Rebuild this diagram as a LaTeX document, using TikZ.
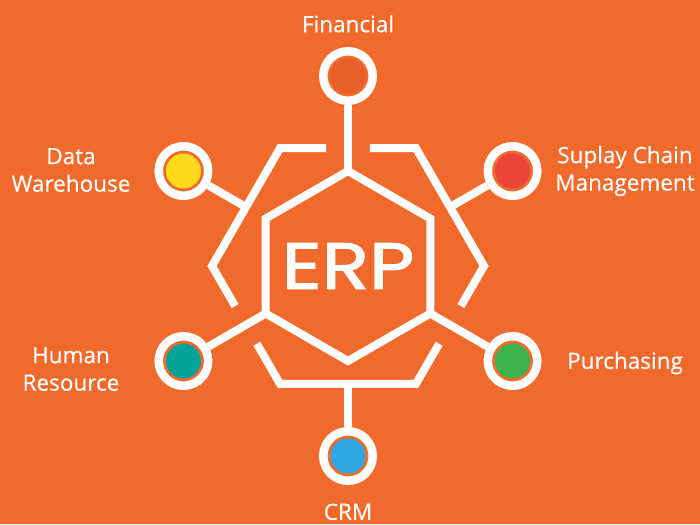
\documentclass[tikz,border=0pt]{standalone}
\usepackage{fontspec}
\setmainfont{Open Sans}[FakeBold=0.5]
\newfontfamily\erpfont{Poppins}[FakeStretch=1.2, FakeBold=2]
\usetikzlibrary{positioning, shapes.geometric, calc}

\definecolor{bgorange}{HTML}{F26A2B}
\definecolor{finorange}{HTML}{E85E2A}
\definecolor{dwyellow}{HTML}{FDD91B}
\definecolor{scmred}{HTML}{EA443B}
\definecolor{hrteal}{HTML}{05A39A}
\definecolor{purgreen}{HTML}{3AB44A}
\definecolor{crmblue}{HTML}{2CA7E0}

\begin{document}
\begin{tikzpicture}[x=1pt, y=1pt,
  every node/.style={font=\fontsize{22.5}{27.5}\selectfont, text=white},
  hub/.style={circle, draw=white, line width=8.5pt, minimum size=49.5pt, inner sep=0pt, fill=bgorange,
    path picture={\fill[#1] (path picture bounding box.center) circle (17.5pt);}},
  tag/.style={align=center},
  link/.style={draw=white, line width=8pt}]
  \fill[bgorange] (-348,-258) rectangle (352,266);

  % core
  \node[regular polygon, regular polygon sides=6, shape border rotate=30, minimum size=190pt,
        inner sep=0pt, outer sep=0pt, link] (erp) {};
  \node[font=\erpfont\fontsize{65}{65}\selectfont] (erptext) at (erp.center) {ERP};

  % outer brackets
  \foreach \r in {0,120,240}
    \draw[link, rotate=\r] ($(120:136)!0.34!(60:136)$) -- (120:136) -- (180:136) -- ($(180:136)!0.34!(240:136)$);
  \coordinate (dwjoin) at (150:117.8);
  \coordinate (scmjoin) at (30:117.8);
  \coordinate (crmjoin) at (270:117.8);

  % modules
  \node[hub=finorange] (fin) at (90:190) {};
  \node[hub=dwyellow] (dw) at (150:190) {};
  \node[hub=scmred] (scm) at (30:190) {};
  \node[hub=hrteal] (hr) at (210:190) {};
  \node[hub=purgreen] (pur) at (330:190) {};
  \node[hub=crmblue] (crm) at (270:190) {};

  \draw[link] (erp.90) -- (fin);
  \draw[link] (erp.210) -- (hr);
  \draw[link] (erp.330) -- (pur);
  \draw[link] (dwjoin) -- (dw);
  \draw[link] (scmjoin) -- (scm);
  \draw[link] (crmjoin) -- (crm);

  % labels
  \node[tag, above=11pt of fin] (fintag) {Financial};
  \node[tag, below=15pt of crm] (crmtag) {CRM};
  \node[tag] (dwtag) at (-277,96) {Data\\Warehouse};
  \node[tag] (scmtag) at (277,95) {Suplay Chain\\Management};
  \node[tag] (hrtag) at (-277,-103) {Human\\Resource};
  \node[tag] (purtag) at (277,-97) {Purchasing};
\end{tikzpicture}
\end{document}
